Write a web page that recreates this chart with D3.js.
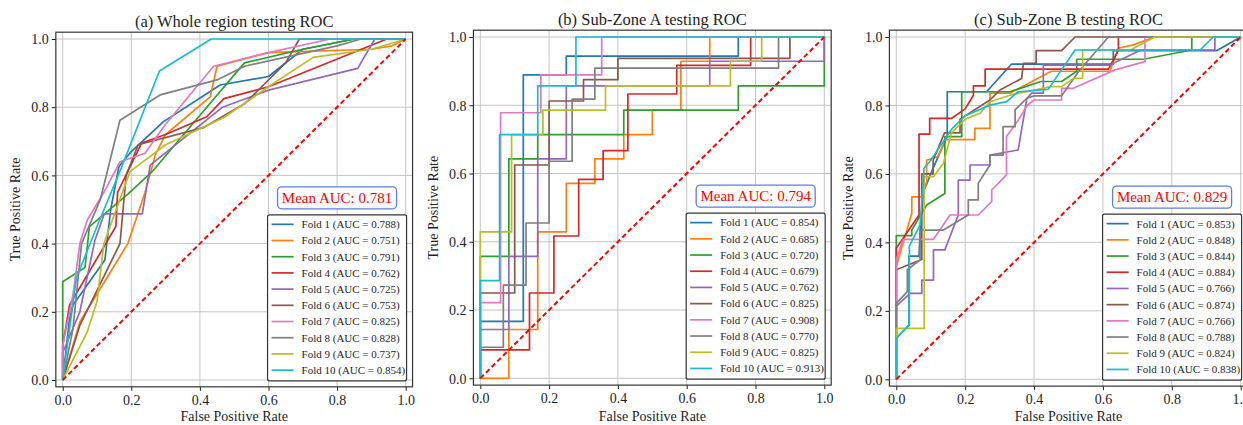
<!DOCTYPE html>
<html>
<head>
<meta charset="utf-8">
<script src="https://cdn.jsdelivr.net/npm/d3@7"></script>
<style>
  body { margin: 0; background: #fff; }
  svg { display: block; }
  text { font-family: "Liberation Serif", "Times New Roman", serif; }
</style>
</head>
<body>
<svg id="chart" width="1243" height="425"></svg>
<script>
// ---- data -------------------------------------------------------------
const foldColors = ["#1f77b4", "#ff7f0e", "#2ca02c", "#d62728", "#9467bd",
                    "#8c564b", "#e377c2", "#7f7f7f", "#bcbd22", "#17becf"];
const foldNames = ["Fold 1", "Fold 2", "Fold 3", "Fold 4", "Fold 5",
                   "Fold 6", "Fold 7", "Fold 8", "Fold 9", "Fold 10"];
const tickValues = [0, 0.2, 0.4, 0.6, 0.8, 1.0];
const panelTitles = ["(a) Whole region testing ROC",
                     "(b) Sub-Zone A testing ROC",
                     "(c) Sub-Zone B testing ROC"];
const meanAUC = [0.781, 0.794, 0.829];

const wholeRegionAUC = [0.788, 0.751, 0.791, 0.762, 0.725, 0.753, 0.825, 0.828, 0.737, 0.854];
const subZoneAAUC    = [0.854, 0.685, 0.720, 0.679, 0.762, 0.825, 0.908, 0.770, 0.825, 0.913];
const subZoneBAUC    = [0.853, 0.848, 0.844, 0.884, 0.766, 0.874, 0.766, 0.788, 0.824, 0.838];

// ROC curves as [false positive rate, true positive rate] pairs, one list per fold
const wholeRegionROC = [
  [[0,0],[0.02,0.18],[0.03,0.22],[0.123,0.352],[0.14,0.5],[0.164,0.626],[0.2,0.67],[0.293,0.757],[0.459,0.865],[0.6,0.89],[0.7,0.97],[0.85,1],[1,1]],
  [[0,0],[0.05,0.17],[0.19,0.4],[0.24,0.55],[0.27,0.66],[0.3,0.72],[0.43,0.83],[0.45,0.92],[0.6,0.96],[0.9,0.97],[0.96,0.98],[1,1]],
  [[0,0],[0,0.093],[0,0.288],[0.065,0.33],[0.078,0.45],[0.19,0.545],[0.26,0.61],[0.42,0.8],[0.53,0.93],[0.7,0.97],[0.85,1],[1,1]],
  [[0,0],[0,0.1],[0.02,0.22],[0.155,0.45],[0.16,0.55],[0.23,0.695],[0.3,0.72],[0.42,0.772],[0.47,0.825],[0.6,0.86],[0.945,1],[1,1]],
  [[0,0],[0,0.08],[0.05,0.2],[0.094,0.41],[0.121,0.487],[0.232,0.487],[0.255,0.63],[0.466,0.8],[0.6,0.85],[0.86,0.914],[0.91,1],[1,1]],
  [[0,0],[0.05,0.16],[0.167,0.4],[0.185,0.6],[0.22,0.69],[0.41,0.74],[0.53,0.81],[0.65,0.93],[0.69,1],[1,1]],
  [[0,0],[0,0.1],[0.03,0.25],[0.05,0.4],[0.072,0.47],[0.12,0.55],[0.167,0.64],[0.24,0.665],[0.3,0.75],[0.44,0.92],[0.6,0.96],[0.78,1],[1,1]],
  [[0,0],[0.03,0.15],[0.055,0.4],[0.11,0.53],[0.167,0.762],[0.284,0.836],[0.45,0.88],[0.53,0.92],[0.8,0.98],[0.87,1],[1,1]],
  [[0,0],[0.072,0.142],[0.1,0.23],[0.12,0.4],[0.196,0.611],[0.3,0.69],[0.47,0.77],[0.6,0.86],[0.73,0.946],[0.9,0.97],[1,1]],
  [[0,0],[0.04,0.3],[0.1,0.45],[0.17,0.62],[0.282,0.906],[0.433,1],[1,1]]
];

const subZoneAROC = [
  [[0,0],[0,0.167],[0.125,0.167],[0.125,0.889],[0.25,0.889],[0.25,0.944],[0.75,0.944],[0.75,1],[1,1]],
  [[0,0],[0.083,0],[0.083,0.143],[0.167,0.143],[0.167,0.429],[0.25,0.429],[0.25,0.571],[0.333,0.571],[0.333,0.643],[0.417,0.643],[0.417,0.714],[0.5,0.714],[0.5,0.786],[0.583,0.786],[0.583,0.929],[0.667,0.929],[0.667,1],[1,1]],
  [[0,0],[0,0.357],[0.083,0.357],[0.083,0.643],[0.167,0.643],[0.167,0.714],[0.417,0.714],[0.417,0.786],[0.75,0.786],[0.75,0.857],[1,0.857],[1,1]],
  [[0,0],[0,0.083],[0.143,0.083],[0.143,0.25],[0.214,0.25],[0.214,0.417],[0.286,0.417],[0.286,0.583],[0.357,0.583],[0.357,0.667],[0.429,0.667],[0.429,0.833],[0.571,0.833],[0.571,0.917],[0.786,0.917],[0.786,1],[1,1]],
  [[0,0],[0,0.143],[0.083,0.143],[0.083,0.357],[0.167,0.357],[0.167,0.643],[0.25,0.643],[0.25,0.857],[0.667,0.857],[0.667,0.929],[1,0.929],[1,1]],
  [[0,0],[0,0.25],[0.1,0.25],[0.1,0.625],[0.2,0.625],[0.2,0.8125],[0.3,0.8125],[0.3,0.875],[0.4,0.875],[0.4,0.9375],[0.9,0.9375],[0.9,1],[1,1]],
  [[0,0],[0,0.222],[0.059,0.222],[0.059,0.778],[0.176,0.778],[0.176,0.889],[0.353,0.889],[0.353,1],[1,1]],
  [[0,0],[0,0.091],[0.067,0.091],[0.067,0.273],[0.133,0.273],[0.133,0.455],[0.2,0.455],[0.2,0.636],[0.267,0.636],[0.267,0.818],[0.333,0.818],[0.333,0.909],[0.867,0.909],[0.867,1],[1,1]],
  [[0,0],[0,0.429],[0.091,0.429],[0.091,0.714],[0.182,0.714],[0.182,0.786],[0.364,0.786],[0.364,0.857],[0.727,0.857],[0.727,0.929],[0.818,0.929],[0.818,1],[1,1]],
  [[0,0],[0,0.286],[0.056,0.286],[0.056,0.714],[0.167,0.714],[0.167,0.857],[0.278,0.857],[0.278,1],[1,1]]
];

const subZoneBROC = [
  [[0,0],[0,0.12],[0.037,0.159],[0.037,0.36],[0.066,0.36],[0.07,0.45],[0.08,0.55],[0.1,0.6],[0.13,0.67],[0.148,0.709],[0.148,0.84],[0.262,0.84],[0.335,0.921],[0.63,0.921],[0.63,0.96],[0.93,0.96],[1,1]],
  [[0,0],[0,0.33],[0.045,0.485],[0.045,0.533],[0.074,0.533],[0.088,0.577],[0.088,0.64],[0.12,0.65],[0.144,0.7],[0.228,0.7],[0.228,0.733],[0.272,0.733],[0.272,0.836],[0.33,0.836],[0.45,0.9],[0.62,0.9],[0.645,0.967],[0.688,0.977],[0.75,1],[1,1]],
  [[0,0],[0,0.42],[0.045,0.42],[0.045,0.436],[0.088,0.509],[0.141,0.543],[0.141,0.709],[0.19,0.709],[0.19,0.84],[0.33,0.84],[0.42,0.87],[0.48,0.87],[0.524,0.9],[0.524,0.935],[0.717,0.935],[0.858,0.962],[0.858,1],[1,1]],
  [[0,0],[0,0.383],[0.066,0.48],[0.066,0.716],[0.097,0.716],[0.097,0.762],[0.16,0.762],[0.2,0.79],[0.224,0.83],[0.224,0.857],[0.258,0.857],[0.258,0.906],[0.616,0.906],[0.645,0.962],[0.645,1],[1,1]],
  [[0,0],[0,0.214],[0.04,0.251],[0.074,0.251],[0.074,0.29],[0.108,0.29],[0.108,0.378],[0.141,0.378],[0.18,0.48],[0.18,0.582],[0.214,0.582],[0.214,0.626],[0.272,0.626],[0.272,0.655],[0.354,0.67],[0.379,0.82],[0.393,0.836],[0.427,0.836],[0.427,0.918],[0.62,0.918],[0.71,0.962],[0.925,0.962],[0.925,1],[1,1]],
  [[0,0],[0,0.32],[0.074,0.35],[0.074,0.6],[0.107,0.6],[0.107,0.64],[0.14,0.72],[0.185,0.72],[0.185,0.76],[0.272,0.816],[0.301,0.845],[0.364,0.879],[0.369,0.923],[0.406,0.923],[0.406,0.96],[0.48,0.96],[0.519,1],[1,1]],
  [[0,0],[0,0.35],[0.02,0.409],[0.108,0.409],[0.156,0.48],[0.238,0.48],[0.277,0.519],[0.277,0.553],[0.32,0.597],[0.32,0.709],[0.354,0.757],[0.38,0.8],[0.4,0.816],[0.48,0.816],[0.48,0.85],[0.514,0.85],[0.635,0.904],[0.722,0.928],[0.722,1],[1,1]],
  [[0,0],[0,0.222],[0.032,0.256],[0.032,0.32],[0.069,0.349],[0.069,0.436],[0.137,0.436],[0.209,0.48],[0.209,0.524],[0.238,0.524],[0.238,0.573],[0.272,0.626],[0.272,0.655],[0.31,0.655],[0.31,0.738],[0.345,0.738],[0.345,0.787],[0.379,0.821],[0.4,0.828],[0.48,0.828],[0.53,0.9],[0.616,1],[1,1]],
  [[0,0],[0,0.149],[0.081,0.149],[0.081,0.592],[0.108,0.592],[0.137,0.631],[0.16,0.72],[0.2,0.76],[0.243,0.777],[0.272,0.811],[0.33,0.83],[0.45,0.855],[0.48,0.855],[0.514,0.879],[0.541,0.88],[0.541,0.962],[0.68,0.962],[0.75,1],[1,1]],
  [[0,0],[0,0.12],[0.038,0.159],[0.038,0.39],[0.069,0.45],[0.08,0.6],[0.08,0.616],[0.1,0.64],[0.16,0.73],[0.2,0.77],[0.272,0.801],[0.32,0.811],[0.354,0.84],[0.441,0.847],[0.519,0.962],[0.882,0.962],[0.92,1],[1,1]]
];

// ---- layout -----------------------------------------------------------
const panelFrames = [
  { x0: 62.7,  x1: 405.7,  y0: 380.0, y1: 39.0, titleY: 27, yLabelX: 20 },
  { x0: 480.3, x1: 824.3,  y0: 378.3, y1: 37.0, titleY: 25, yLabelX: 438 },
  { x0: 896.3, x1: 1240.7, y0: 379.3, y1: 37.0, titleY: 25, yLabelX: 853 }
];
const panelCurves = [wholeRegionROC, subZoneAROC, subZoneBROC];
const panelAUC = [wholeRegionAUC, subZoneAAUC, subZoneBAUC];

const svg = d3.select("#chart");
const pad = 0.02;   // axis margin beyond [0, 1]
const ink = "#1e1e1e";

panelFrames.forEach((f, p) => {
  const x = d3.scaleLinear().domain([0, 1]).range([f.x0, f.x1]);
  const y = d3.scaleLinear().domain([0, 1]).range([f.y0, f.y1]);
  const left = x(-pad), right = x(1 + pad), top = y(1 + pad), bottom = y(-pad);
  const g = svg.append("g");

  // grid
  g.append("g").selectAll("line").data(tickValues).join("line")
    .attr("x1", d => x(d)).attr("x2", d => x(d))
    .attr("y1", top).attr("y2", bottom)
    .attr("stroke", "#c4c4c4").attr("stroke-width", 1);
  g.append("g").selectAll("line").data(tickValues).join("line")
    .attr("x1", left).attr("x2", right)
    .attr("y1", d => y(d)).attr("y2", d => y(d))
    .attr("stroke", "#c4c4c4").attr("stroke-width", 1);

  // fold curves
  const line = d3.line().x(d => x(d[0])).y(d => y(d[1]));
  g.append("g").selectAll("path").data(panelCurves[p]).join("path")
    .attr("d", line)
    .attr("fill", "none")
    .attr("stroke", (d, i) => foldColors[i])
    .attr("stroke-width", 1.7)
    .attr("stroke-linejoin", "round");

  // chance diagonal
  g.append("path")
    .attr("d", line([[0, 0], [1, 1]]))
    .attr("stroke", "#ff0000").attr("stroke-width", 2)
    .attr("stroke-dasharray", "5,3").attr("fill", "none");

  // axes
  const xAxis = g.append("g").attr("transform", `translate(0,${bottom})`)
    .call(d3.axisBottom(x).tickValues(tickValues).tickFormat(d3.format(".1f")).tickSizeOuter(0).tickSize(4).tickPadding(4));
  const yAxis = g.append("g").attr("transform", `translate(${left},0)`)
    .call(d3.axisLeft(y).tickValues(tickValues).tickFormat(d3.format(".1f")).tickSizeOuter(0).tickSize(4).tickPadding(3));
  [xAxis, yAxis].forEach(a => {
    a.select(".domain").remove();
    a.selectAll("line").attr("stroke", ink);
    a.selectAll("text").attr("font-family", "Liberation Serif").attr("font-size", 14).attr("fill", ink);
  });
  yAxis.selectAll("text").attr("dy", "0.34em");

  // frame
  g.append("rect").attr("x", left).attr("y", top)
    .attr("width", right - left).attr("height", bottom - top)
    .attr("fill", "none").attr("stroke", "#333").attr("stroke-width", 1.2);

  // titles and axis labels
  const cx = (f.x0 + f.x1) / 2;
  g.append("text").attr("x", cx).attr("y", f.titleY)
    .attr("text-anchor", "middle").attr("font-size", 16.5).attr("fill", ink)
    .text(panelTitles[p]);
  g.append("text").attr("x", cx).attr("y", 421)
    .attr("text-anchor", "middle").attr("font-size", 14).attr("fill", ink)
    .text("False Positive Rate");
  g.append("text")
    .attr("transform", `translate(${f.yLabelX},${(f.y0 + f.y1) / 2}) rotate(-90)`)
    .attr("text-anchor", "middle").attr("font-size", 14).attr("fill", ink)
    .text("True Positive Rate");

  // legend
  const legW = 139, legH = 166, rowH = 16.2;
  const legX = right - 6 - legW, legY = bottom - 6 - legH;
  const leg = g.append("g");
  leg.append("rect").attr("x", legX).attr("y", legY).attr("width", legW).attr("height", legH)
    .attr("rx", 2).attr("fill", "#fff").attr("stroke", "#333").attr("stroke-width", 1.2);
  const rows = leg.selectAll("g.row").data(panelAUC[p]).join("g")
    .attr("transform", (d, i) => `translate(${legX},${legY + 9.5 + i * rowH})`);
  rows.append("line").attr("x1", 4).attr("x2", 26).attr("y1", 0).attr("y2", 0)
    .attr("stroke", (d, i) => foldColors[i]).attr("stroke-width", 1.7);
  rows.append("text").attr("x", 34).attr("y", 0).attr("dy", "0.35em")
    .attr("font-size", 11).attr("fill", ink)
    .text((d, i) => `${foldNames[i]} (AUC = ${d.toFixed(3)})`);

  // mean AUC badge
  const mW = 119, mH = 22;
  const mX = right - 16 - mW, mY = legY - 6 - mH;
  g.append("rect").attr("x", mX).attr("y", mY).attr("width", mW).attr("height", mH)
    .attr("rx", 4).attr("fill", "#fff").attr("stroke", "#5b7fe0").attr("stroke-width", 1.3);
  g.append("text").attr("x", mX + mW / 2).attr("y", mY + mH / 2).attr("dy", "0.35em")
    .attr("text-anchor", "middle").attr("font-size", 15).attr("fill", "#ff0000")
    .text(`Mean AUC: ${meanAUC[p].toFixed(3)}`);
});
</script>
</body>
</html>
